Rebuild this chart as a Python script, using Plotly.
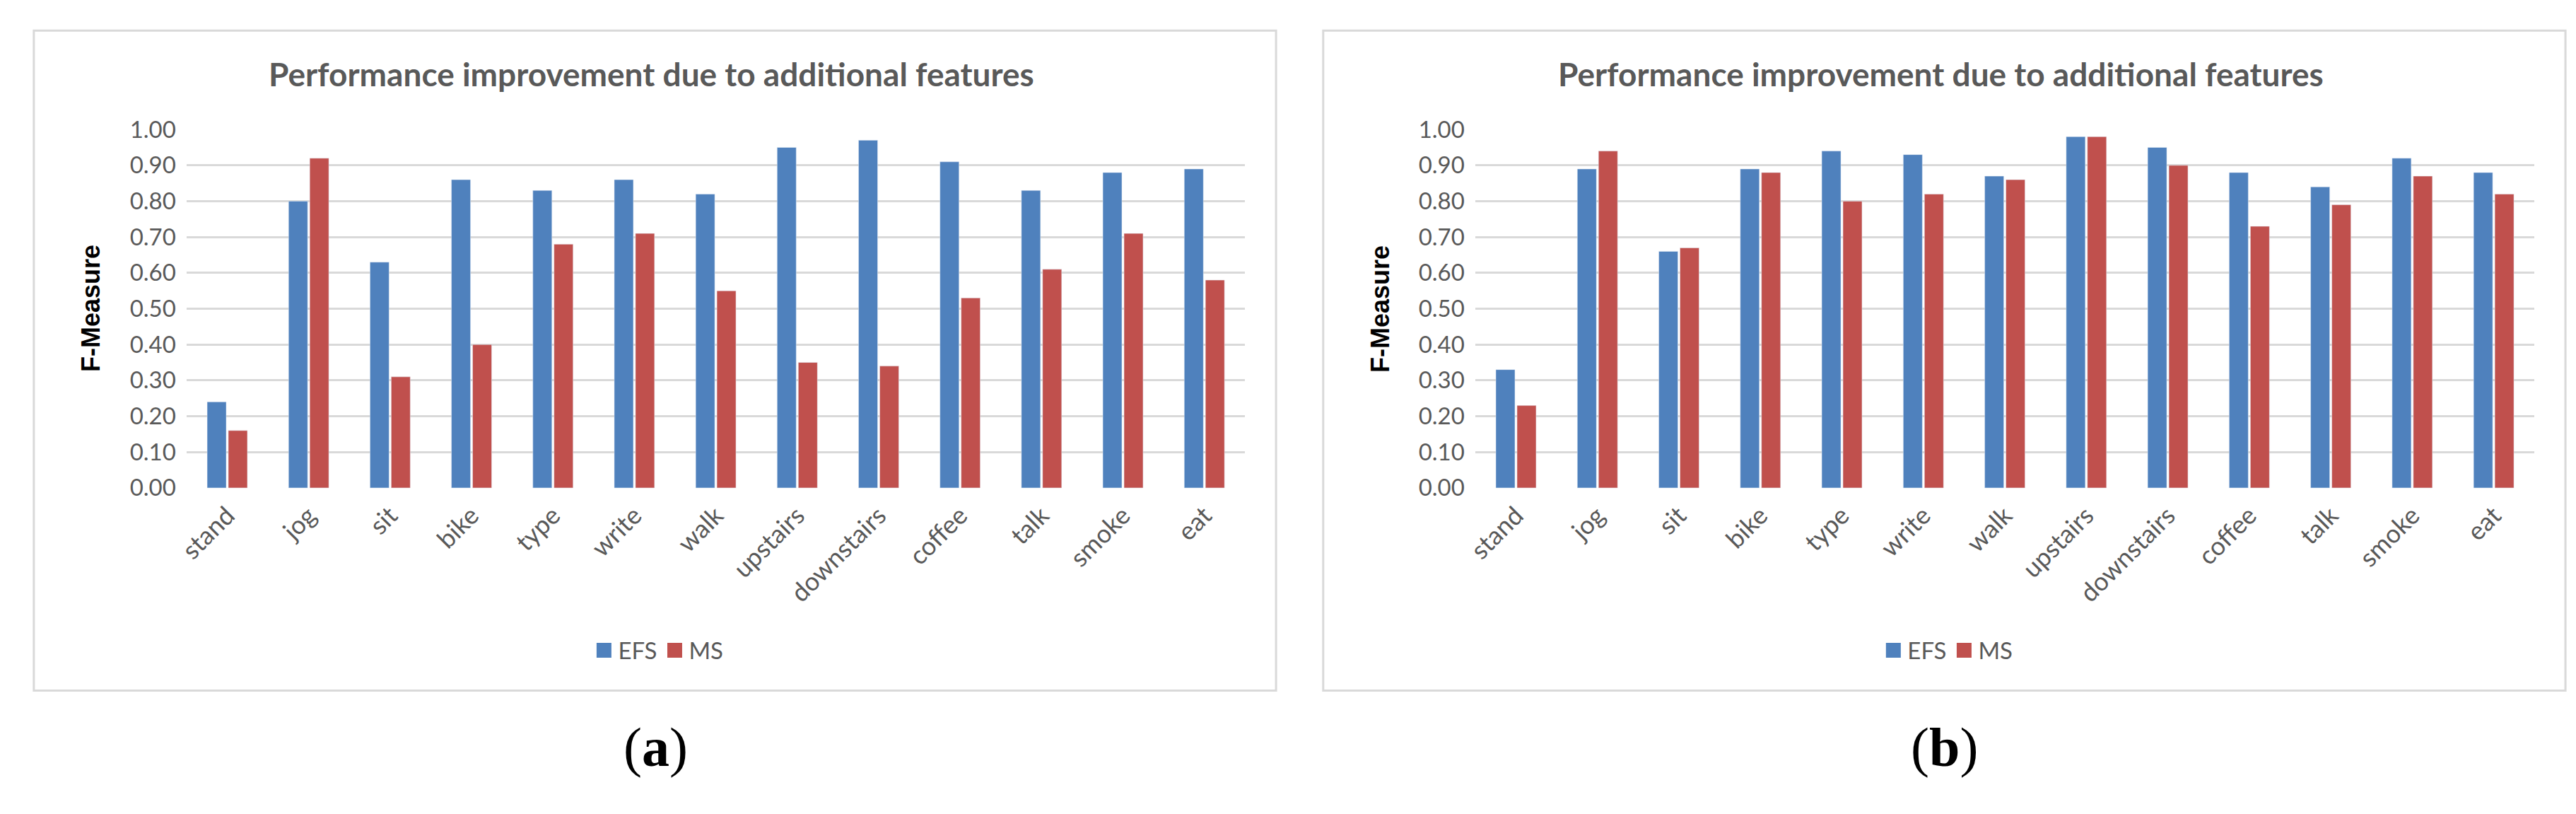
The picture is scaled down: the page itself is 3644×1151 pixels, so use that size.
import plotly.graph_objects as go

categories = ["stand", "jog", "sit", "bike", "type", "write", "walk", "upstairs",
              "downstairs", "coffee", "talk", "smoke", "eat"]
efs_a = [0.24, 0.80, 0.63, 0.86, 0.83, 0.86, 0.82, 0.95, 0.97, 0.91, 0.83, 0.88, 0.89]
ms_a = [0.16, 0.92, 0.31, 0.40, 0.68, 0.71, 0.55, 0.35, 0.34, 0.53, 0.61, 0.71, 0.58]
efs_b = [0.33, 0.89, 0.66, 0.89, 0.94, 0.93, 0.87, 0.98, 0.95, 0.88, 0.84, 0.92, 0.88]
ms_b = [0.23, 0.94, 0.67, 0.88, 0.80, 0.82, 0.86, 0.98, 0.90, 0.73, 0.79, 0.87, 0.82]
y_ticks = [0.0, 0.1, 0.2, 0.3, 0.4, 0.5, 0.6, 0.7, 0.8, 0.9, 1.0]
series_names = ["EFS", "MS"]
title_text = "Performance improvement due to additional features"
y_title = "F-Measure"
captions = ["a", "b"]

W, H = 3644, 1151
BLUE = "#4F81BD"
RED = "#C0504D"
GRAY = "#595959"
GRID = "#D9D9D9"

def px(x):
    return x / W

def py(y):
    return 1 - y / H

fig = go.Figure()
panels = [
    dict(xa="x", ya="y", efs=efs_a, ms=ms_a, legend="legend", box=(32, 1797), plot=(249, 1753),
         ytx=113, cap=916, leg=822),
    dict(xa="x2", ya="y2", efs=efs_b, ms=ms_b, legend="legend2", box=(1864, 3629), plot=(2080, 3585),
         ytx=1945, cap=2747, leg=2654),
]

for p in panels:
    for name, vals, col in [(series_names[0], p["efs"], BLUE), (series_names[1], p["ms"], RED)]:
        fig.add_trace(go.Bar(x=categories, y=vals, name=name, marker_color=col,
                             xaxis=p["xa"], yaxis=p["ya"], showlegend=False))
    for name, col in [(series_names[0], BLUE), (series_names[1], RED)]:
        fig.add_trace(go.Scatter(x=[None], y=[None], mode="markers", name=name,
                                 marker=dict(symbol="square", size=16, color=col,
                                             line=dict(color=col, width=5)),
                                 xaxis=p["xa"], yaxis=p["ya"], legend=p["legend"]))

axis_common_x = dict(showgrid=False, showline=False, zeroline=False, ticks="",
                     tickangle=-45, tickfont=dict(family="Lato", size=36, color=GRAY),
                     ticklabelstandoff=10)
axis_common_y = dict(range=[0, 1], tickvals=y_ticks, tickformat=".2f", showgrid=True,
                     gridcolor=GRID, gridwidth=3, zeroline=False, showline=False, ticks="",
                     tickfont=dict(family="Lato", size=33, color=GRAY), ticklabelstandoff=14)

ytop, ybot = 168, 693
legend_common = dict(orientation="h", xanchor="left", yanchor="middle",
                     font=dict(family="Lato", size=33, color=GRAY), itemwidth=30,
                     bgcolor="rgba(0,0,0,0)", borderwidth=0, tracegroupgap=0)
fig.update_layout(
    width=W, height=H, margin=dict(l=0, r=0, t=0, b=0),
    paper_bgcolor="white", plot_bgcolor="white",
    barmode="group", bargap=0.48, bargroupgap=0.1,
    xaxis=dict(domain=[px(249), px(1753)], anchor="y", **axis_common_x),
    yaxis=dict(domain=[py(ybot), py(ytop)], anchor="x", **axis_common_y),
    xaxis2=dict(domain=[px(2080), px(3585)], anchor="y2", **axis_common_x),
    yaxis2=dict(domain=[py(ybot), py(ytop)], anchor="x2", **axis_common_y),
    legend=dict(x=px(panels[0]["leg"]), y=py(931), **legend_common),
    legend2=dict(x=px(panels[1]["leg"]), y=py(931), **legend_common),
)

shapes = []
annotations = []
for p, cap in zip(panels, captions):
    x0, x1 = p["box"]
    shapes.append(dict(type="rect", xref="paper", yref="paper", x0=px(x0), x1=px(x1),
                       y0=py(990), y1=py(23), line=dict(color=GRID, width=3), layer="below"))
    annotations.append(dict(text="<b>" + title_text + "</b>", xref="paper", yref="paper",
                            x=px((x0 + x1) / 2 - 5), y=py(86), xanchor="center", yanchor="middle",
                            showarrow=False, font=dict(family="Lato", size=46, color=GRAY)))
    annotations.append(dict(text="<b>" + y_title + "</b>", xref="paper", yref="paper",
                            x=px(p["ytx"]), y=py((ytop + ybot) / 2), xanchor="center", yanchor="middle",
                            textangle=-90, showarrow=False,
                            font=dict(family="Liberation Sans", size=36, color="black")))
    annotations.append(dict(text="(<b>" + cap + "</b>)", xref="paper", yref="paper",
                            x=px(p["cap"]), y=py(1073), xanchor="center", yanchor="middle",
                            showarrow=False, font=dict(family="Liberation Serif", size=78, color="black")))

fig.update_layout(shapes=shapes, annotations=annotations)
fig.write_html("out.html", config={"displayModeBar": False},
               post_script="document.body.style.margin='0';")
